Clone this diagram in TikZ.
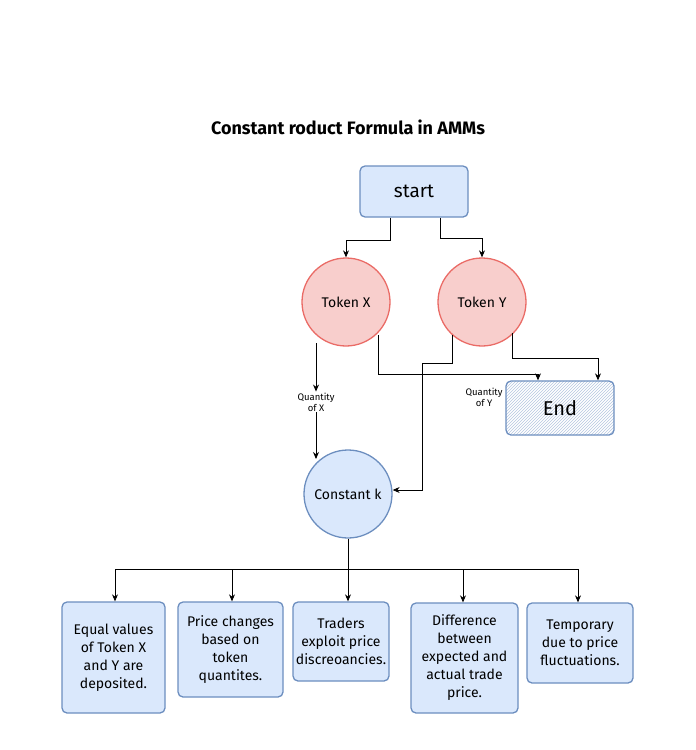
\documentclass[tikz,border=0pt]{standalone}
\usepackage{fontspec}
\setmainfont{Fira Sans}
\usetikzlibrary{arrows.meta,patterns}
\definecolor{bfill}{HTML}{DAE8FC}
\definecolor{bline}{HTML}{6C8EBF}
\definecolor{rfill}{HTML}{F8CECC}
\definecolor{rline}{HTML}{EA6B66}
\begin{document}
\begin{tikzpicture}[x=1pt,y=-1pt,
  box/.style={draw=bline,fill=bfill,line width=1.3pt,rounded corners=5pt,inner sep=0pt,align=center,font=\fontsize{14}{18}\selectfont},
  rc/.style={circle,draw=rline,fill=rfill,line width=1.3pt,minimum size=88pt,inner sep=0pt,font=\fontsize{14}{16}\selectfont},
  bc/.style={circle,draw=bline,fill=bfill,line width=1.3pt,minimum size=88pt,inner sep=0pt,font=\fontsize{14}{16}\selectfont},
  arr/.style={-{Stealth[length=7pt,width=6pt]},line width=0.9pt},
  lbl/.style={font=\fontsize{9.5}{11}\selectfont,align=center,inner sep=1pt}]
\useasboundingbox (0,0) rectangle (696,750);
\node[font=\bfseries\fontsize{18}{21}\selectfont] (title) at (348,127) {Constant roduct Formula in AMMs};
\node[box,minimum width=108pt,minimum height=51pt,font=\fontsize{19}{21}\selectfont] (start) at (414,191.5) {start};
\node[rc] (tx) at (346,302) {Token X};
\node[rc] (ty) at (482,302) {Token Y};
\node[box,pattern=north east lines,pattern color=bline!50,minimum width=108pt,minimum height=54pt,font=\fontsize{20}{22}\selectfont] (end) at (560,408) {End};
\node[bc] (k) at (348,494) {Constant k};
\node[lbl] (qx) at (316,402) {Quantity\\of X};
\node[lbl] (qy) at (484,397) {Quantity\\of Y};
\node[box,minimum width=103pt,minimum height=111pt] (b1) at (113.5,657.5) {Equal values\\of Token X\\and Y are\\deposited.};
\node[box,minimum width=105pt,minimum height=95pt] (b2) at (230.5,649.5) {Price changes\\based on\\token\\quantites.};
\node[box,minimum width=96pt,minimum height=79pt] (b3) at (341,641.5) {Traders\\exploit price\\discreoancies.};
\node[box,minimum width=107pt,minimum height=110pt] (b4) at (464.5,658) {Difference\\between\\expected and\\actual trade\\price.};
\node[box,minimum width=106pt,minimum height=80pt] (b5) at (580,643) {Temporary\\due to price\\fluctuations.};
\draw[arr] (start.south -| 390,0) |- (346,240) -- (tx.north);
\draw[arr] (start.south -| 440,0) |- (482,238) -- (ty.north);
\coordinate (qxs) at (316,343);
\coordinate (kx) at (316,459);
\draw[arr] (qxs) -- (qx.north);
\draw[arr] (qx.south) -- (kx);
\coordinate (tx1) at (378,335);
\coordinate (ty1) at (452,335);
\coordinate (ty2) at (512,333);
\draw[arr] (tx1) |- (538,374) -- (end.north -| 538,0);
\draw[arr] (ty1) |- (422,363) |- (k.east |- 0,490);
\draw[arr] (ty2) |- (598,358) -- (end.north -| 598,0);
\draw[line width=0.9pt] (115,569) -- (578,569);
\draw[arr] (k.south) -- (k.south |- b3.north);
\foreach \b/\x in {b1/115,b2/232,b4/463,b5/578} \draw[arr] (\x,569) -- (\b.north -| \x,0);
\end{tikzpicture}
\end{document}
